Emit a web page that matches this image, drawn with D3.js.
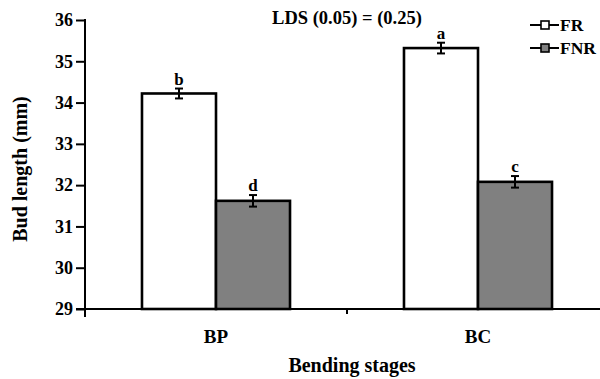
<!DOCTYPE html>
<html><head><meta charset="utf-8">
<script src="https://cdn.jsdelivr.net/npm/d3@7"></script>
<style>body{margin:0;background:#fff}svg{display:block}svg text{font-family:"Liberation Serif",Tinos,"Times New Roman","DejaVu Serif",serif}</style>
</head><body><svg id="c" width="600" height="379"></svg>
<script>
const categories = ["BP", "BC"];
const series = ["FR", "FNR"];
const frValues = [34.22, 35.32];
const fnrValues = [31.62, 32.08];
const frErrors = [0.12, 0.13];
const fnrErrors = [0.14, 0.14];
const letters = [["b", "d"], ["a", "c"]];
const yTicks = [29, 30, 31, 32, 33, 34, 35, 36];
const fills = {FR: "#ffffff", FNR: "#808080"};

const data = categories.map((c, i) => ({
  cat: c,
  bars: [
    {s: "FR", v: frValues[i], e: frErrors[i], l: letters[i][0]},
    {s: "FNR", v: fnrValues[i], e: fnrErrors[i], l: letters[i][1]}
  ]
}));

const svg = d3.select("#c");
const x0 = d3.scaleBand().domain(categories).range([85, 609]).padding(0);
const x1 = d3.scaleBand().domain(series).range([0, x0.bandwidth()]).paddingInner(0).paddingOuter(0.77);
const y = d3.scaleLinear().domain([29, 36]).range([309, 20]);

const g = svg.append("g");
const grp = g.selectAll("g.cat").data(data).join("g").attr("transform", d => `translate(${x0(d.cat)},0)`);
grp.selectAll("rect").data(d => d.bars).join("rect")
  .attr("x", d => x1(d.s)).attr("y", d => y(d.v))
  .attr("width", x1.bandwidth()).attr("height", d => y(29) - y(d.v))
  .attr("fill", d => fills[d.s]).attr("stroke", "#000").attr("stroke-width", 2.6);
grp.selectAll("g.err").data(d => d.bars).join("g").each(function(d) {
  const cx = x1(d.s) + x1.bandwidth() / 2;
  const s = d3.select(this).attr("stroke", "#000").attr("stroke-width", 2);
  s.append("line").attr("x1", cx).attr("x2", cx).attr("y1", y(d.v + d.e)).attr("y2", y(d.v - d.e));
  s.append("line").attr("x1", cx - 4).attr("x2", cx + 4).attr("y1", y(d.v + d.e)).attr("y2", y(d.v + d.e));
  s.append("line").attr("x1", cx - 4).attr("x2", cx + 4).attr("y1", y(d.v - d.e)).attr("y2", y(d.v - d.e));
});
grp.selectAll("text.let").data(d => d.bars).join("text").attr("class", "let")
  .attr("x", d => x1(d.s) + x1.bandwidth() / 2).attr("y", d => y(d.v + d.e) - 4)
  .attr("text-anchor", "middle").attr("font-size", 17).attr("font-weight", "bold").text(d => d.l);

const ya = svg.append("g").attr("transform", "translate(85,0)")
  .call(d3.axisLeft(y).tickValues(yTicks).tickSize(9).tickPadding(3).tickFormat(d3.format("d")));
ya.select(".domain").remove();
ya.selectAll(".tick line").attr("stroke", "#000").attr("stroke-width", 2);
ya.selectAll("text").attr("font-size", 18).attr("font-weight", "bold").attr("fill", "#000");
svg.append("line").attr("x1", 85).attr("x2", 85).attr("y1", y(36) - 1).attr("y2", y(29) + 8).attr("stroke", "#000").attr("stroke-width", 2);

svg.append("line").attr("x1", 76).attr("x2", 600).attr("y1", y(29)).attr("y2", y(29)).attr("stroke", "#000").attr("stroke-width", 2);
svg.append("line").attr("x1", x0("BC")).attr("x2", x0("BC")).attr("y1", y(29)).attr("y2", y(29) + 5).attr("stroke", "#000").attr("stroke-width", 2);
svg.selectAll("text.cat").data(categories).join("text").attr("class", "cat")
  .attr("x", d => x0(d) + x1("FNR")).attr("y", 343).attr("text-anchor", "middle")
  .attr("font-size", 19).attr("font-weight", "bold").text(d => d);

svg.append("text").attr("x", 352).attr("y", 372).attr("text-anchor", "middle").attr("font-size", 20).attr("font-weight", "bold").text("Bending stages");
svg.append("text").attr("transform", "translate(27,169) rotate(-90)").attr("text-anchor", "middle").attr("font-size", 20).attr("font-weight", "bold").text("Bud length (mm)");
svg.append("text").attr("x", 347).attr("y", 24).attr("text-anchor", "middle").attr("font-size", 18.5).attr("font-weight", "bold").text("LDS (0.05) = (0.25)");

const lg = svg.selectAll("g.leg").data(series).join("g").attr("class", "leg").attr("transform", (d, i) => `translate(530,${25 + i * 23})`);
lg.append("line").attr("x1", 0).attr("x2", 29).attr("stroke", "#000").attr("stroke-width", 2);
lg.append("rect").attr("x", 11).attr("y", -4).attr("width", 8).attr("height", 8).attr("fill", d => fills[d]).attr("stroke", "#000").attr("stroke-width", 1.6);
lg.append("text").attr("x", 30).attr("y", 6).attr("font-size", 17.5).attr("font-weight", "bold").text(d => d);
</script></body></html>
